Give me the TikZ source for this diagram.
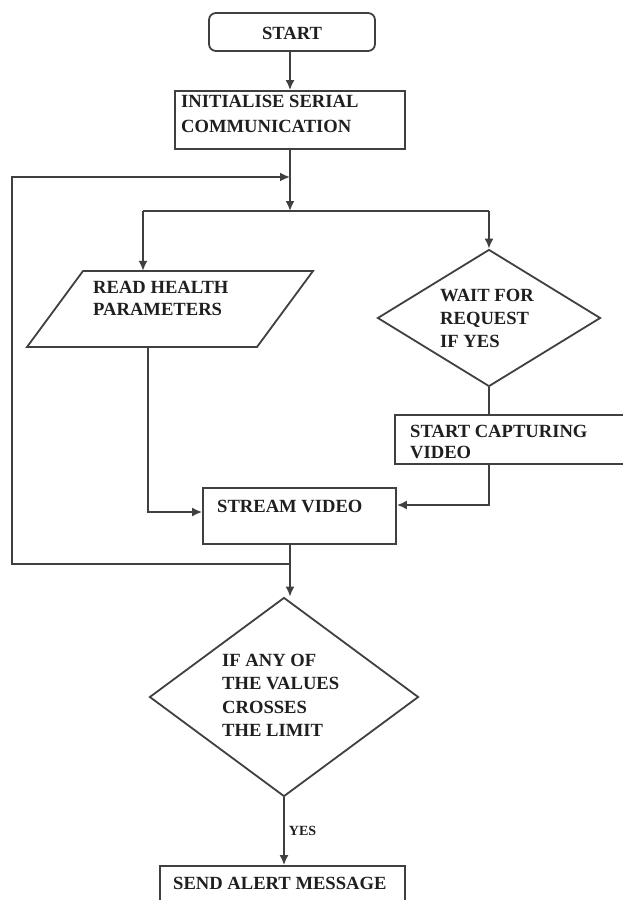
\documentclass[tikz,border=0pt]{standalone}
\usepackage{fontspec}
\setmainfont{Liberation Serif}
\usetikzlibrary{shapes.geometric,arrows.meta}
\tikzset{
  ln/.style={line width=1.8pt, draw=black!75},
  arr/.style={ln, -{Latex[length=10pt,width=9pt]}},
  box/.style={ln, rectangle, inner sep=0pt},
  lbl/.style={font=\bfseries\fontsize{18.6}{#1}\selectfont, text=black!88, inner sep=0pt, align=left, anchor=base west},
  lbl/.default=23pt,
}
\begin{document}
\begin{tikzpicture}[x=1pt,y=-1pt]
\useasboundingbox (0,0) rectangle (623,900);
\clip (0,0) rectangle (623,900);
\fill[white] (0,0) rectangle (623,900);

% shapes
\node[box, rounded corners=7pt, minimum width=166pt, minimum height=38pt] (start) at (292,32) {};
\node[box, minimum width=230pt, minimum height=58pt] (init) at (290,120) {};
\coordinate (p1) at (83,271);
\coordinate (p2) at (313,271);
\coordinate (p3) at (257,347);
\coordinate (p4) at (27,347);
\draw[ln, line join=miter] (p1) -- (p2) -- (p3) -- (p4) -- cycle;
\node[rectangle, inner sep=0pt, minimum width=230pt, minimum height=76pt] (read) at (170,309) {};
\node[ln, diamond, inner sep=0pt, minimum width=223pt, minimum height=137pt] (d1) at (489,318) {};
\node[box, minimum width=255pt, minimum height=49pt] (cap) at (522.5,439.5) {};
\node[box, minimum width=193pt, minimum height=56pt] (stream) at (299.5,516) {};
\node[ln, diamond, inner sep=0pt, minimum width=269pt, minimum height=199pt] (d2) at (284,697) {};
\node[box, minimum width=245pt, minimum height=50pt] (send) at (282.5,891) {};

% texts (anchor = baseline of the last line)
\node[lbl, anchor=base] (starttxt) at (292,39) {START};
\node[lbl=25pt] (inittxt) at (181,132) {INITIALISE SERIAL\\COMMUNICATION};
\node[lbl=22pt] (readtxt) at (93,315) {READ HEALTH\\PARAMETERS};
\node[lbl=23pt] (d1txt) at (440,347) {WAIT FOR\\REQUEST\\IF YES};
\node[lbl=21pt] (captxt) at (410,458) {START CAPTURING\\VIDEO};
\node[lbl] (streamtxt) at (217,512) {STREAM VIDEO};
\node[lbl=23.5pt] (d2txt) at (222,736.5) {IF ANY OF\\THE VALUES\\CROSSES\\THE LIMIT};
\node[lbl] (sendtxt) at (173,889) {SEND ALERT MESSAGE};

% helper coordinates
\coordinate (ax) at (290,0);
\coordinate (br) at (290,211);
\coordinate (brL) at (143,211);
\coordinate (brR) at (489,211);
\coordinate (rx) at (148,0);
\coordinate (yL) at (0,512);
\coordinate (yR) at (0,505);
\coordinate (yl) at (0,564);
\coordinate (yt) at (0,177);
\coordinate (lx) at (12,0);

% connectors
\draw[arr] (start.south -| ax) -- (init.north -| ax);
\draw[arr] (init.south -| ax) -- (br);
\draw[ln] (brL) -- (brR);
\draw[arr] (brL) -- (brL |- read.north);
\draw[arr] (brR) -- (d1.north);
\draw[ln] (d1.south) -- (d1.south |- cap.north);
\draw[arr] (d1.south |- cap.south) |- (stream.east |- yR);
\draw[arr] (rx |- read.south) |- (stream.west |- yL);
\draw[arr] (ax |- stream.south) -- (ax |- d2.north);
\draw[arr, line join=miter] (ax |- yl) -- (lx |- yl) -- (lx |- yt) -- (ax |- yt);
\draw[arr] (d2.south) -- (d2.south |- send.north)
  node[pos=0.5, anchor=west, xshift=4pt, inner sep=0pt, font=\bfseries\fontsize{14}{15}\selectfont, text=black!88] (yes) {YES};
\end{tikzpicture}
\end{document}
